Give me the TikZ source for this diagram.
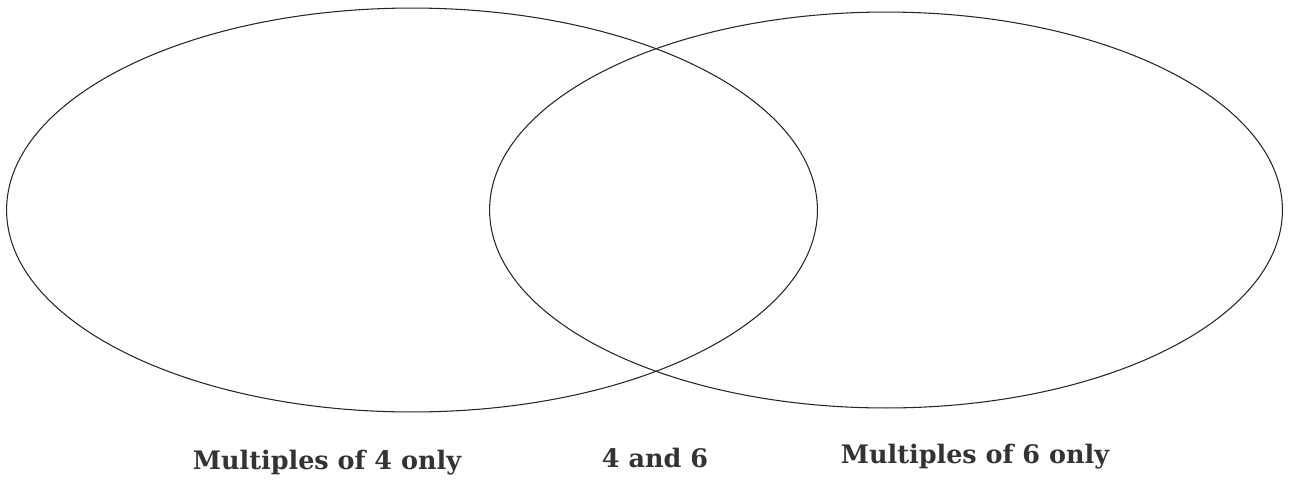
\documentclass[tikz,border=0pt]{standalone}
\usepackage{fontspec}
\setmainfont{DejaVu Serif}
\usetikzlibrary{shapes.geometric}

\tikzset{
  venn/.style={ellipse, draw=black!85, line width=0.6pt, inner sep=0pt, outer sep=0pt},
  setlabel/.style={anchor=base, text=black!80, font=\bfseries\fontsize{14.5}{17}\selectfont},
}

\begin{document}
\begin{tikzpicture}[x=0.02cm, y=-0.02cm]
\useasboundingbox (0,0) rectangle (1293,481);

\node[venn, minimum width=16.22cm, minimum height=8.08cm] (four) at (412,210) {};
\node[venn, minimum width=15.86cm, minimum height=7.92cm] (six) at (886,210) {};

\node[setlabel] (fouronly) at (327,469) {Multiples of 4 only};
\node[setlabel] (both) at (655,467) {4 and 6};
\node[setlabel] (sixonly) at (975,463) {Multiples of 6 only};
\end{tikzpicture}
\end{document}
